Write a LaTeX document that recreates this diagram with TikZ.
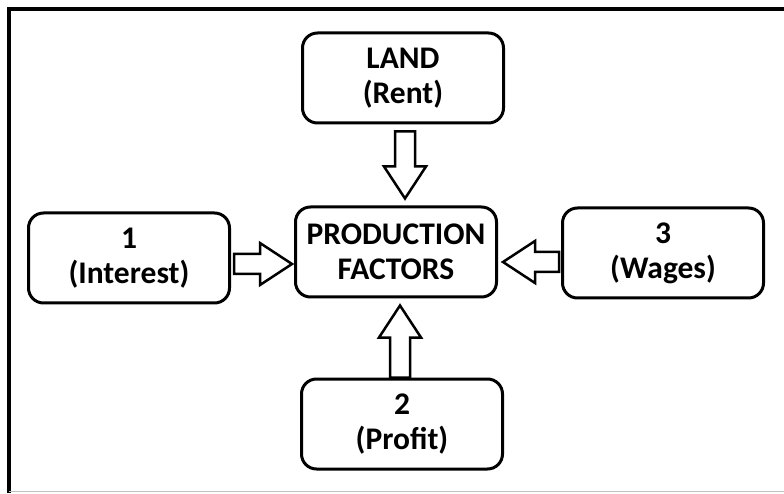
\documentclass[tikz,border=0pt]{standalone}
\usepackage{fontspec}
\setmainfont{Carlito}
\usetikzlibrary{calc}
\tikzset{
  factor/.style={draw, line width=3pt, rounded corners=15pt, minimum width=201pt,
    minimum height=90pt, align=center, font=\fontsize{31.5}{35}\selectfont\bfseries},
  hollow/.style={draw, line width=2.5pt, line join=miter, fill=white}
}
% hollow block arrow from #1 to tip #2
\newcommand{\hollowarrow}[2]{%
  \coordinate (hb) at ($(#2)!32pt!(#1)$);
  \draw[hollow] ($(#1)!10pt!90:(#2)$) -- ($(hb)!10pt!-90:(#1)$) -- ($(hb)!21pt!-90:(#1)$)
    -- (#2) -- ($(hb)!21pt!90:(#1)$) -- ($(hb)!10pt!90:(#1)$) -- ($(#1)!10pt!-90:(#2)$) -- cycle;}
\begin{document}
\begin{tikzpicture}[x=1pt,y=1pt]
\useasboundingbox (0,0) rectangle (784,493);
% frame
\draw[line width=3.5pt] (9,0) -- (9,484) -- (784,484);
\draw[gray!50, line width=1.5pt] (9,1.5) -- (784,1.5);
% boxes
\node[factor] (prod) at (396,241) {PRODUCTION\\FACTORS};
\node[factor] (land) at (403,415) {LAND\\(Rent)};
\node[factor] (interest) at (129,235) {1\\(Interest)};
\node[factor] (wages) at (663,240) {3\\(Wages)};
\node[factor] (profit) at (402,69) {2\\(Profit)};
% arrows
\coordinate (landout) at ($(land.south)+(2,-7)$);
\coordinate (landin) at ($(landout |- prod.north)+(0,7)$);
\coordinate (intout) at ($(interest.east)+(3,-6)$);
\coordinate (intin) at ($(intout -| prod.west)+(-2,0)$);
\coordinate (wageout) at ($(wages.west)+(-2,-9)$);
\coordinate (wagein) at ($(wageout -| prod.east)+(5,0)$);
\coordinate (profout) at ($(profit.north)+(-2,0)$);
\coordinate (profin) at ($(profout |- prod.south)+(0,-7)$);
\hollowarrow{landout}{landin}
\hollowarrow{intout}{intin}
\hollowarrow{wageout}{wagein}
\hollowarrow{profout}{profin}
\end{tikzpicture}
\end{document}
